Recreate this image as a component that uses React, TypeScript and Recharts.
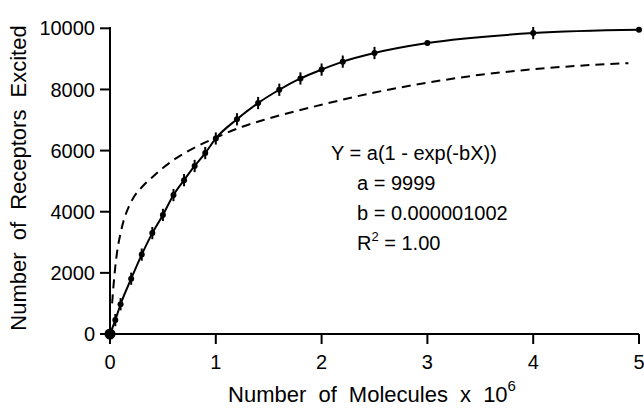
import React from "react";
import { LineChart, Line, XAxis, YAxis, ErrorBar, Customized } from "recharts";

document.body.style.margin = "0";

// measured points (x in 10^6 molecules) with small error bars
const molecules = [0, 0.05, 0.1, 0.2, 0.3, 0.4, 0.5, 0.6, 0.7, 0.8, 0.9, 1.0, 1.2, 1.4, 1.6, 1.8, 2.0, 2.2, 2.5, 3, 4, 5];
const excited = [0, 455, 974, 1808, 2597, 3300, 3896, 4545, 5032, 5497, 5919, 6397, 7024, 7555, 7990, 8360, 8650, 8910, 9193, 9518, 9843, 9951];
const errors = [0, 200, 200, 200, 200, 200, 200, 200, 200, 200, 200, 200, 200, 200, 200, 200, 200, 200, 200, 0, 200, 0];

// dashed comparison curve
const dashX = [0.02, 0.03, 0.05, 0.07, 0.1, 0.13, 0.17, 0.22, 0.3, 0.4, 0.5, 0.6, 0.8, 1.0, 1.25, 1.5, 2, 2.5, 3, 3.5, 4, 4.5, 4.9];
const dashY = [1000, 1450, 2200, 2750, 3300, 3720, 4100, 4450, 4800, 5130, 5430, 5690, 6100, 6420, 6780, 7050, 7500, 7900, 8220, 8480, 8660, 8790, 8860];

const xTicks = [0, 1, 2, 3, 4, 5];
const yTicks = [0, 2000, 4000, 6000, 8000, 10000];

const fitLines = ["a = 9999", "b = 0.000001002"];

const font = '"Liberation Sans", Arial, Helvetica, sans-serif';

const measured = molecules.map((x, i) => ({ x, y: excited[i], err: errors[i] }));
const dashed = dashX.map((x, i) => ({ x, y: dashY[i] }));

const Dot = (props: any) => {
  const { cx, cy, index } = props;
  return <circle key={index} cx={cx} cy={cy} r={index === 0 ? 5.5 : 3} fill="#000" />;
};

const Annotation = () => (
  <g fontFamily={font} fontSize={20} fill="#000">
    <text x={331} y={160}>Y = a(1 - exp(-bX))</text>
    <text x={357} y={190}>{fitLines[0]}</text>
    <text x={357} y={220}>{fitLines[1]}</text>
    <text x={357} y={250}>
      R<tspan dy={-9} fontSize={13}>2</tspan><tspan dy={9}> = 1.00</tspan>
    </text>
  </g>
);

const App: React.FC = () => {
  return (
    <div style={{ width: 644, height: 409, background: "#fff" }}>
      <LineChart width={644} height={409} margin={{ top: 27, right: 5, bottom: 0, left: 0 }}>
        <XAxis
          type="number"
          dataKey="x"
          domain={[0, 5]}
          ticks={xTicks}
          height={75}
          tickSize={10}
          tickMargin={11}
          axisLine={{ stroke: "#000", strokeWidth: 2 }}
          tickLine={{ stroke: "#000", strokeWidth: 2 }}
          tick={{ fill: "#000", fontSize: 20, fontFamily: font }}
          label={{
            content: () => (
              <text x={372} y={402} textAnchor="middle" fontFamily={font} fontSize={22} fill="#000" wordSpacing={6}>
                Number of Molecules x 10<tspan dy={-11} fontSize={15}>6</tspan>
              </text>
            ),
          }}
          allowDuplicatedCategory={false}
        />
        <YAxis
          type="number"
          domain={[0, 10000]}
          ticks={yTicks}
          width={110}
          tickSize={10}
          tickMargin={5}
          axisLine={{ stroke: "#000", strokeWidth: 2 }}
          tickLine={{ stroke: "#000", strokeWidth: 2 }}
          tick={{ fill: "#000", fontSize: 20, fontFamily: font }}
          label={{
            content: () => (
              <text
                x={26}
                y={178}
                transform="rotate(-90, 26, 178)"
                textAnchor="middle"
                fontFamily={font}
                fontSize={22}
                fill="#000"
                wordSpacing={6}
              >
                Number of Receptors Excited
              </text>
            ),
          }}
        />
        <Line
          data={dashed}
          dataKey="y"
          type="monotone"
          stroke="#000"
          strokeWidth={2}
          strokeDasharray="9 6"
          dot={false}
          isAnimationActive={false}
        />
        <Line
          data={measured}
          dataKey="y"
          type="monotone"
          stroke="#000"
          strokeWidth={2}
          dot={Dot}
          isAnimationActive={false}
        >
          <ErrorBar dataKey="err" width={0} stroke="#000" strokeWidth={2} direction="y" />
        </Line>
        <Customized component={Annotation} />
      </LineChart>
    </div>
  );
};

export default App;
